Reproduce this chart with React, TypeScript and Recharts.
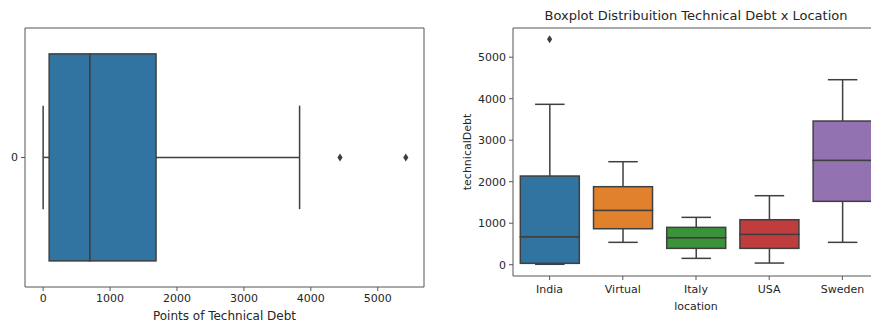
import React from 'react';
import { ComposedChart, Bar, Cell, Scatter, XAxis, YAxis, ReferenceArea } from 'recharts';

// left panel: all projects together
const overallLabels = ['0'];
const overallMin = [0];
const overallQ1 = [90];
const overallMedian = [699];
const overallQ3 = [1687];
const overallMax = [3832];
const overallOutliers = [4436, 5419];

// right panel: split by location
const locations = ['India', 'Virtual', 'Italy', 'USA', 'Sweden'];
const locMin = [10, 539, 153, 40, 539];
const locQ1 = [33, 867, 394, 394, 1527];
const locMedian = [675, 1310, 651, 732, 2515];
const locQ3 = [2137, 1880, 900, 1084, 3462];
const locMax = [3865, 2482, 1141, 1663, 4458];
const locOutlierCats = ['India'];
const locOutlierValues = [5430];

const debtTicks = [0, 1000, 2000, 3000, 4000, 5000];
const overallDomain = [-271, 5691];
const locationDomain = [-272, 5704];
const palette = ['#3274a1', '#e1812c', '#3a923a', '#c03d3e', '#9372b2'];

const LINE = '#3f3f3f';
const FRAME = '#555555';
const TEXT = '#262626';
const FONT = '"DejaVu Sans", sans-serif';

// stacked segments: invisible base, lower whisker, two box halves, upper whisker
const toStack = (
  labels: string[], mins: number[], q1: number[], med: number[], q3: number[], max: number[]
) =>
  labels.map((name, i) => ({
    name,
    base: mins[i],
    lowWhisker: q1[i] - mins[i],
    lowBox: med[i] - q1[i],
    highBox: q3[i] - med[i],
    highWhisker: max[i] - q3[i],
  }));

const overallData = toStack(overallLabels, overallMin, overallQ1, overallMedian, overallQ3, overallMax);
const locationData = toStack(locations, locMin, locQ1, locMedian, locQ3, locMax);
const overallOutlierData = overallOutliers.map((value) => ({ name: overallLabels[0], value }));
const locationOutlierData = locOutlierValues.map((value, i) => ({ name: locOutlierCats[i], value }));

const whisker = (end: 'low' | 'high', horizontal: boolean) => (p: any) => {
  const { x, y, width, height } = p;
  if (horizontal) {
    const cy = y + height / 2;
    const capX = end === 'low' ? x : x + width;
    return (
      <g stroke={LINE} strokeWidth={1.5}>
        <line x1={x} y1={cy} x2={x + width} y2={cy} />
        <line x1={capX} y1={y + height / 4} x2={capX} y2={y + (3 * height) / 4} />
      </g>
    );
  }
  const cx = x + width / 2;
  const capY = end === 'low' ? y + height : y;
  return (
    <g stroke={LINE} strokeWidth={1.5}>
      <line x1={cx} y1={y} x2={cx} y2={y + height} />
      <line x1={x + width / 4} y1={capY} x2={x + (3 * width) / 4} y2={capY} />
    </g>
  );
};

const boxShape = (p: any) => (
  <rect x={p.x} y={p.y} width={p.width} height={p.height} fill={p.fill} stroke={LINE} strokeWidth={1.5} />
);

const diamond = (p: any) => {
  if (p.cx == null || p.cy == null) return <g />;
  const { cx, cy } = p;
  return (
    <polygon
      points={`${cx},${cy - 4} ${cx + 2.6},${cy} ${cx},${cy + 4} ${cx - 2.6},${cy}`}
      fill={LINE}
    />
  );
};

const tickStyle = { fill: TEXT, fontSize: 11, fontFamily: FONT };
const frameLine = { stroke: FRAME, strokeWidth: 1 };

const OverallChart = () => (
  <ComposedChart
    width={440}
    height={325}
    data={overallData}
    layout="vertical"
    margin={{ top: 28, right: 16, bottom: 0, left: 0 }}
    barCategoryGap="10%"
  >
    <XAxis
      type="number"
      domain={overallDomain}
      allowDataOverflow
      ticks={debtTicks}
      height={38}
      tick={tickStyle}
      tickSize={4}
      tickMargin={3}
      tickLine={frameLine}
      axisLine={false}
      label={{ value: 'Points of Technical Debt', position: 'insideBottom', offset: 5, fill: TEXT, fontSize: 12, fontFamily: FONT }}
    />
    <YAxis
      type="category"
      dataKey="name"
      allowDuplicatedCategory={false}
      width={25}
      tick={tickStyle}
      tickSize={4}
      tickMargin={3}
      tickLine={frameLine}
      axisLine={false}
    />
    <ReferenceArea
      x1={overallDomain[0]}
      x2={overallDomain[1]}
      y1={overallLabels[0]}
      y2={overallLabels[overallLabels.length - 1]}
      fill="none"
      fillOpacity={0}
      stroke={FRAME}
      strokeWidth={1}
      ifOverflow="visible"
    />
    <Bar dataKey="base" stackId="box" fill="transparent" isAnimationActive={false} />
    <Bar dataKey="lowWhisker" stackId="box" shape={whisker('low', true)} isAnimationActive={false} />
    <Bar dataKey="lowBox" stackId="box" fill={palette[0]} shape={boxShape} isAnimationActive={false} />
    <Bar dataKey="highBox" stackId="box" fill={palette[0]} shape={boxShape} isAnimationActive={false} />
    <Bar dataKey="highWhisker" stackId="box" shape={whisker('high', true)} isAnimationActive={false} />
    <Scatter data={overallOutlierData} dataKey="value" shape={diamond} isAnimationActive={false} />
  </ComposedChart>
);

const LocationChart = () => (
  <ComposedChart
    width={445}
    height={325}
    data={locationData}
    margin={{ top: 28, right: 6, bottom: 0, left: 0 }}
    barCategoryGap="10%"
  >
    <XAxis
      type="category"
      dataKey="name"
      allowDuplicatedCategory={false}
      height={49}
      tick={tickStyle}
      tickSize={4}
      tickMargin={5}
      tickLine={frameLine}
      axisLine={false}
      label={{ value: 'location', position: 'insideBottom', offset: 15, fill: TEXT, fontSize: 11, fontFamily: FONT }}
    />
    <YAxis
      type="number"
      domain={locationDomain}
      allowDataOverflow
      ticks={debtTicks}
      width={73}
      tick={tickStyle}
      tickSize={4}
      tickMargin={3}
      tickLine={frameLine}
      axisLine={false}
      label={{
        value: 'technicalDebt',
        angle: -90,
        position: 'insideLeft',
        offset: 27,
        fill: TEXT,
        fontSize: 11,
        fontFamily: FONT,
        style: { textAnchor: 'middle' },
      }}
    />
    <ReferenceArea
      x1={locations[0]}
      x2={locations[locations.length - 1]}
      y1={locationDomain[0]}
      y2={locationDomain[1]}
      fill="none"
      fillOpacity={0}
      stroke={FRAME}
      strokeWidth={1}
      ifOverflow="visible"
    />
    <Bar dataKey="base" stackId="box" fill="transparent" isAnimationActive={false} />
    <Bar dataKey="lowWhisker" stackId="box" shape={whisker('low', false)} isAnimationActive={false} />
    <Bar dataKey="lowBox" stackId="box" shape={boxShape} isAnimationActive={false}>
      {locationData.map((d, i) => (
        <Cell key={`lo-${d.name}`} fill={palette[i]} />
      ))}
    </Bar>
    <Bar dataKey="highBox" stackId="box" shape={boxShape} isAnimationActive={false}>
      {locationData.map((d, i) => (
        <Cell key={`hi-${d.name}`} fill={palette[i]} />
      ))}
    </Bar>
    <Bar dataKey="highWhisker" stackId="box" shape={whisker('high', false)} isAnimationActive={false} />
    <Scatter data={locationOutlierData} dataKey="value" shape={diamond} isAnimationActive={false} />
  </ComposedChart>
);

export default function App() {
  return (
    <div
      style={{
        position: 'absolute',
        left: 0,
        top: 0,
        width: 871,
        height: 325,
        overflow: 'hidden',
        background: '#ffffff',
        fontFamily: FONT,
      }}
    >
      <div style={{ position: 'absolute', left: 0, top: 0 }}>
        <OverallChart />
      </div>
      <div style={{ position: 'absolute', left: 440, top: 0 }}>
        <LocationChart />
      </div>
      <div
        style={{
          position: 'absolute',
          left: 513,
          top: 8,
          width: 366,
          textAlign: 'center',
          fontSize: 13,
          color: TEXT,
          whiteSpace: 'nowrap',
        }}
      >
        Boxplot Distribuition Technical Debt x Location
      </div>
    </div>
  );
}
